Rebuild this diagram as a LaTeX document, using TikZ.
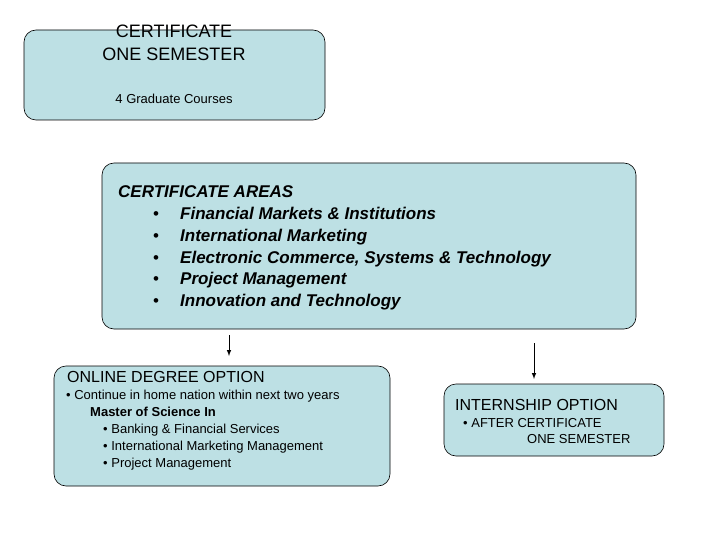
\documentclass[tikz,border=0pt]{standalone}
\usepackage{fontspec}
\setmainfont{Liberation Sans}
\begin{document}
\begin{tikzpicture}[x=1pt,y=-1pt,
  box/.style={draw=black,fill=boxc,rounded corners=12pt,line width=0.6pt},
  t/.style={anchor=base west,inner sep=0pt},
  arr/.style={-latex,line width=1pt}]
\definecolor{boxc}{HTML}{BDE0E4}
\useasboundingbox (0,0) rectangle (720,540);
\draw[box] (24,30) rectangle (325,120);
\node[anchor=base,inner sep=0pt,align=center,font=\fontsize{18}{23}\selectfont] (c1) at (174,61) {CERTIFICATE\\ONE SEMESTER};
\node[anchor=base,inner sep=0pt,font=\fontsize{13}{15}\selectfont] (c2) at (174,104) {4 Graduate Courses};

\draw[box] (102,163) rectangle (636,329);
\node[t,font=\fontsize{17}{20}\selectfont\bfseries\itshape] (a0) at (118,198) {CERTIFICATE AREAS};
\foreach \y/\s [count=\i] in {219/Financial Markets \& Institutions,241/International Marketing,263/{Electronic Commerce, Systems \& Technology},284/Project Management,306/Innovation and Technology}{
  \node[t,font=\fontsize{17}{20}\selectfont] (b\i) at (153,\y) {•};
  \node[t,font=\fontsize{17}{20}\selectfont\bfseries\itshape] (a\i) at (180,\y) {\s};
}

\coordinate (p1) at (229,335); \coordinate (q1) at (229,356);
\coordinate (p2) at (534,343); \coordinate (q2) at (534,379);
\draw[arr] (p1) -- (q1);
\draw[arr] (p2) -- (q2);

\draw[box] (54,366) rectangle (390,486);
\node[t,font=\fontsize{16}{19}\selectfont] (o0) at (67,382) {ONLINE DEGREE OPTION};
\node[t,font=\fontsize{13}{15}\selectfont] (o1) at (66,399) {• Continue in home nation within next two years};
\node[t,font=\fontsize{13}{15}\selectfont\bfseries] (o2) at (90,416) {Master of Science In};
\node[t,font=\fontsize{13}{15}\selectfont] (o3) at (103,433) {• Banking \& Financial Services};
\node[t,font=\fontsize{13}{15}\selectfont] (o4) at (103,450) {• International Marketing Management};
\node[t,font=\fontsize{13}{15}\selectfont] (o5) at (103,467) {• Project Management};

\draw[box] (444,384) rectangle (664,456);
\node[t,font=\fontsize{16}{19}\selectfont] (i0) at (455,410) {INTERNSHIP OPTION};
\node[t,font=\fontsize{13}{15}\selectfont] (i1) at (463,427) {• AFTER CERTIFICATE};
\node[t,font=\fontsize{13}{15}\selectfont] (i2) at (527,443) {ONE SEMESTER};
\end{tikzpicture}
\end{document}
